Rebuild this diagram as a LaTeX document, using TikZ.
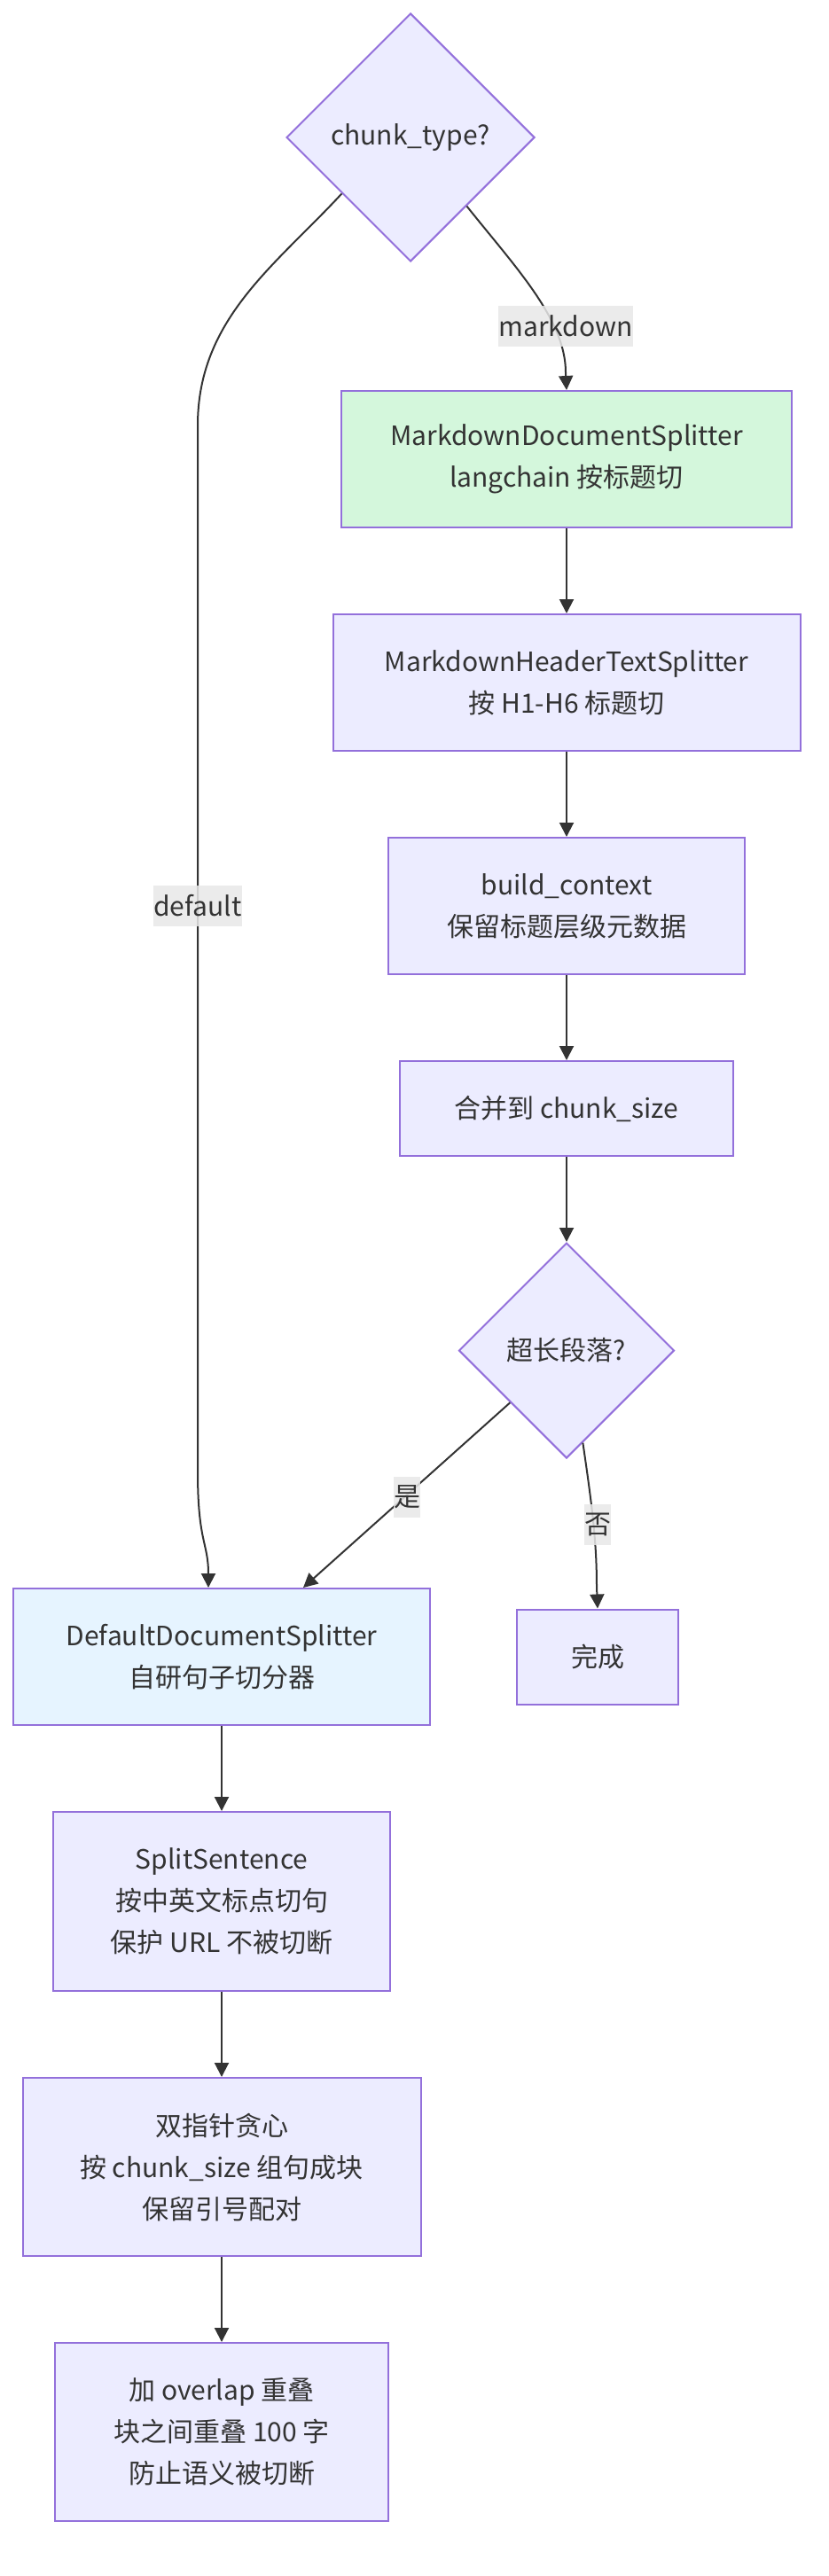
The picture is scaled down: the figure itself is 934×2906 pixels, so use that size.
\documentclass[tikz,border=0pt]{standalone}
\usepackage{fontspec}
\setmainfont{Noto Sans CJK SC}
\usetikzlibrary{shapes.geometric, arrows.meta, positioning, calc}
\definecolor{nodefill}{RGB}{236, 236, 255}
\definecolor{nodeborder}{RGB}{147, 112, 219}
\definecolor{mdgreen}{RGB}{212, 247, 220}
\definecolor{defaultblue}{RGB}{230, 244, 255}
\definecolor{linegray}{RGB}{51, 51, 51}
\definecolor{labelgray}{RGB}{232, 232, 232}
\tikzstyle{process} = [rectangle, draw=nodeborder, line width=1pt, fill=nodefill, text=linegray, align=center, inner sep=0pt, font={\fontsize{15pt}{23.5pt}\selectfont}]
\tikzstyle{decision} = [diamond, aspect=1, draw=nodeborder, line width=1pt, fill=nodefill, text=linegray, align=center, inner sep=0pt, font={\fontsize{15pt}{23.5pt}\selectfont}]
\tikzstyle{elabel} = [rectangle, fill=labelgray, fill opacity=0.85, text opacity=1, text=linegray, inner xsep=0pt, inner ysep=0pt, minimum height=23pt, font={\fontsize{15pt}{23.5pt}\selectfont}]
\tikzstyle{arrow} = [line width=1pt, draw=linegray, -{Triangle[length=8pt, width=8pt]}]

\begin{document}
\begin{tikzpicture}[x=0.5pt, y=-0.5pt, node distance=48pt]
\useasboundingbox (0,0) rectangle (934,2906);

% Markdown branch
\node (type) [decision, minimum width=140pt, minimum height=140pt] at (463,155) {chunk\_type?};
\node (mdsplit) [process, fill=mdgreen, minimum width=254pt, minimum height=77pt] at (639,518) {MarkdownDocumentSplitter\\langchain 按标题切};
\node (header) [process, below=of mdsplit, minimum width=263.5pt, minimum height=77pt] {MarkdownHeaderTextSplitter\\按 H1-H6 标题切};
\node (context) [process, below=of header, minimum width=201pt, minimum height=77pt] {build\_context\\保留标题层级元数据};
\node (merge) [process, below=of context, minimum width=188pt, minimum height=53.5pt] {合并到 chunk\_size};
\node (longpara) [decision, below=of merge, minimum width=121.5pt, minimum height=121.5pt] {超长段落?};

% Default branch
\node (default) [process, fill=defaultblue, minimum width=235pt, minimum height=77pt] at (250,1869) {DefaultDocumentSplitter\\自研句子切分器};
\node (done) [process, right=of default, minimum width=91pt, minimum height=53.5pt] {完成};
\node (sentence) [process, below=of default, minimum width=190pt, minimum height=101pt] {SplitSentence\\按中英文标点切句\\保护 URL 不被切断};
\node (greedy) [process, below=of sentence, minimum width=224.5pt, minimum height=100.5pt] {双指针贪心\\按 chunk\_size 组句成块\\保留引号配对};
\node (overlap) [process, below=of greedy, minimum width=188pt, minimum height=100.5pt] {加 overlap 重叠\\块之间重叠 100 字\\防止语义被切断};

% Arrows
\draw [arrow] ($(type.south)!0.45!(type.east)$) .. controls (580,300) and (638,360) .. (638,420) -- (mdsplit.north);
\draw [arrow] ($(type.south)!0.55!(type.west)$) .. controls (310,300) and (223,360) .. (223,480) -- (223,1660) .. controls (223,1740) and (235,1740) .. ([xshift=-7.5pt]default.north);
\draw [arrow] (mdsplit) -- (header);
\draw [arrow] (header) -- (context);
\draw [arrow] (context) -- (merge);
\draw [arrow] (merge) -- (longpara);
\draw [arrow] ($(longpara.south)!0.52!(longpara.west)$) -- ([xshift=46pt]default.north);
\draw [arrow] ($(longpara.south)!0.15!(longpara.east)$) .. controls (668,1700) and (673,1740) .. (673,1790) -- (done.north);
\draw [arrow] (default) -- (sentence);
\draw [arrow] (sentence) -- (greedy);
\draw [arrow] (greedy) -- (overlap);

% Edge labels
\node (lblmd) [elabel] at (638,368) {markdown};
\node (lbldefault) [elabel] at (223,1022) {default};
\node (lblyes) [elabel] at (459,1689) {是};
\node (lblno) [elabel] at (674,1720) {否};

\end{tikzpicture}
\end{document}
